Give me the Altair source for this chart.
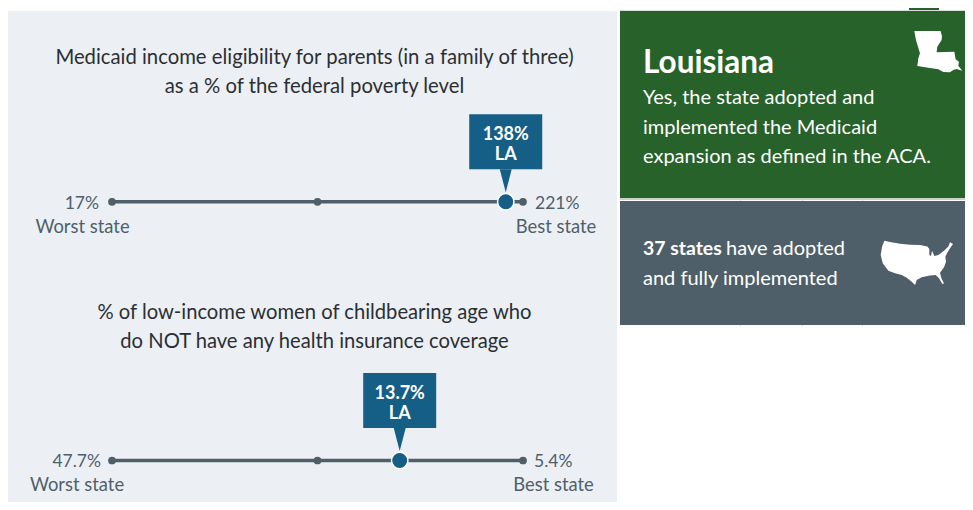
import altair as alt
import pandas as pd

metrics = ["Medicaid income eligibility", "Uninsured low-income women"]
worst_labels = ["17%", "47.7%"]
best_labels = ["221%", "5.4%"]
state_labels = ["138%", "13.7%"]
# share of the way along the worst-to-best range
marker_positions = [0.0, 0.5, 1.0]
state_positions = [0.958, 0.70]

FONT = "Lato"
INK = "#2b2f33"
SLATE = "#4f5f69"
BLUE = "#155e86"
GREEN = "#266229"
PANEL = "#ecf0f5"


def outline(points, cx, cy, half):
    cmds = [f"{(x - cx) / half:.3f},{(y - cy) / half:.3f}" for x, y in points]
    return "M" + " L".join(cmds) + " Z"


la_outline = [(43,93),(122,93),(126,108),(125,120),(112,140),(110,157),(163,155),(167,178),(177,185),(175,197),(187,212),(170,207),(160,210),(150,217),(130,216),(115,208),(85,203),(52,198),(55,175),(60,160),(48,120)]
us_outline = [(43,32),(60,36),(90,41),(120,44),(150,45),(172,50),(178,57),(178,75),(183,78),(186,62),(193,78),(205,75),(222,62),(235,50),(240,37),(249,42),(240,55),(232,68),(226,80),(228,95),(222,112),(210,128),(214,145),(222,160),(217,162),(207,145),(197,135),(180,137),(155,142),(140,150),(135,165),(125,155),(110,143),(95,135),(75,130),(55,122),(38,100),(32,75),(36,50)]
LA_PATH = outline(la_outline, 115, 155, 72)
US_PATH = outline(us_outline, 140, 100, 110)
POINTER_PATH = "M-0.52,-1 L0.52,-1 L0,1 Z"

one = pd.DataFrame({"k": [0]})


def box(x0, y0, x1, y1, color):
    return alt.Chart(one).mark_rect(color=color).encode(
        x=alt.value(x0 - 8), x2=alt.value(x1 - 8), y=alt.value(y0 - 8), y2=alt.value(y1 - 8))


def label(text, x, y, size=20.2, color=INK, align="left", weight="normal"):
    return alt.Chart(one).mark_text(
        align=align, baseline="alphabetic", font=FONT, fontSize=size, color=color, fontWeight=weight
    ).encode(x=alt.value(x - 8), y=alt.value(y - 8), text=alt.value(text))


def icon(path, x, y, side):
    return alt.Chart(one).mark_point(
        shape=path, size=side * side, filled=True, color="white", opacity=1
    ).encode(x=alt.value(x - 8), y=alt.value(y - 8))


rows = pd.DataFrame([{"metric": m, "pos": p} for m in metrics for p in marker_positions])
states = pd.DataFrame({"metric": metrics, "pos": state_positions, "value": state_labels, "abbr": ["LA", "LA"]})

X = alt.X("pos:Q", scale=alt.Scale(domain=[0, 1], range=[104, 515]), axis=None)
Y = alt.Y("metric:N", scale=alt.Scale(type="point", domain=metrics, range=[193.8, 452.5], padding=0), axis=None)

line = alt.Chart(rows).mark_line(color=SLATE, strokeWidth=3.5).encode(x=X, y=Y, detail="metric:N")
dots = alt.Chart(rows).mark_circle(color=SLATE, size=60, opacity=1).encode(x=X, y=Y)
halo = alt.Chart(states).mark_circle(color=BLUE, size=270, opacity=1, stroke="white", strokeWidth=1.5).encode(x=X, y=Y)
callout = alt.Chart(states).mark_rect(color=BLUE, width=73, height=55, yOffset=-60).encode(x=X, y=Y)
pointer = alt.Chart(states).mark_point(shape=POINTER_PATH, size=23 * 23, filled=True, color=BLUE, opacity=1, yOffset=-21).encode(x=X, y=Y)
value_text = alt.Chart(states).mark_text(font=FONT, fontSize=18, fontWeight="bold", color="white", baseline="alphabetic", yOffset=-62).encode(x=X, y=Y, text="value:N")
abbr_text = alt.Chart(states).mark_text(font=FONT, fontSize=18, fontWeight="bold", color="white", baseline="alphabetic", yOffset=-42).encode(x=X, y=Y, text="abbr:N")

layers = [
    box(8, 11, 617, 510, PANEL),
    box(909, 8, 939, 11, GREEN),
    box(620, 10, 973, 11, "#d8dfd8"),
    box(620, 11, 973, 198, GREEN),
    box(620, 198, 973, 200, "#c9d3c9"),
    box(620, 201, 973, 325, SLATE),
    box(740, 200, 741, 201, "#dddddd"), box(802, 200, 803, 201, "#dddddd"), box(862, 200, 863, 201, "#dddddd"),
    box(740, 325, 741, 327, "#e6e6e6"), box(802, 325, 803, 327, "#e6e6e6"), box(862, 325, 863, 327, "#e6e6e6"),
    label("Medicaid income eligibility for parents (in a family of three)", 314.5, 64, size=20.3, align="center"),
    label("as a % of the federal poverty level", 314.5, 93, size=20.3, align="center"),
    label("% of low-income women of childbearing age who", 314.5, 319, align="center"),
    label("do NOT have any health insurance coverage", 314.5, 348, align="center"),
    line, dots, pointer, callout, halo, value_text, abbr_text,
    label(worst_labels[0], 99, 209, size=17.5, color=SLATE, align="right"),
    label("Worst state", 82.5, 233, size=18.4, color=SLATE, align="center"),
    label(best_labels[0], 535, 209, size=17.5, color=SLATE),
    label("Best state", 556, 233, size=18.4, color=SLATE, align="center"),
    label(worst_labels[1], 101, 467, size=17.5, color=SLATE, align="right"),
    label("Worst state", 77, 491, size=18.4, color=SLATE, align="center"),
    label(best_labels[1], 534, 467, size=17.5, color=SLATE),
    label("Best state", 553.5, 491, size=18.4, color=SLATE, align="center"),
    label("Louisiana", 643, 73, size=31.5, color="white", weight="bold"),
    label("Yes, the state adopted and", 643, 104, size=20, color="white"),
    label("implemented the Medicaid", 643, 134, size=20, color="white"),
    label("expansion as defined in the ACA.", 643, 163, size=20, color="white"),
    label("37 states", 643, 255, size=19.4, color="white", weight="bold"),
    label("have adopted", 726, 255, size=20, color="white"),
    label("and fully implemented", 643, 285, size=20, color="white"),
    icon(LA_PATH, 938.3, 51.7, 48),
    icon(US_PATH, 916.7, 263.3, 73.3),
]

chart = alt.layer(*layers).properties(
    width=957, height=494, padding=0, autosize=alt.AutoSizeParams(type="none"), background="white"
).configure_view(stroke=None)

chart.save("out.html", embed_options={"renderer": "svg", "actions": False})
